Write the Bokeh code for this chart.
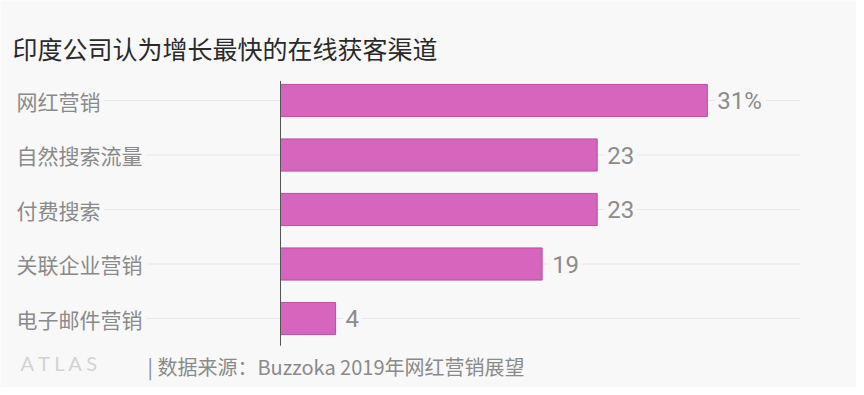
from bokeh.plotting import figure
from bokeh.models import Range1d, Label, ColumnDataSource
from bokeh.core.properties import value
from bokeh.embed import file_html
from bokeh.resources import INLINE

title_text = "印度公司认为增长最快的在线获客渠道"
categories = ["网红营销", "自然搜索流量", "付费搜索", "关联企业营销", "电子邮件营销"]
values = [31, 23, 23, 19, 4]
value_labels = ["31%", "23", "23", "19", "4"]
source_text = "| 数据来源：Buzzoka 2019年网红营销展望"
brand_text = "A  T  L  A  S"

W, H = 856, 387
px_per_unit = 13.77
zero_px = 280
row_px = 54.5
first_row_px = 100

x_start = -zero_px / px_per_unit
x_end = (W - zero_px) / px_per_unit
y_end = first_row_px / row_px
y_start = -(H - first_row_px) / row_px

BG = "#f8f8f8"
p = figure(width=W, height=H, output_backend="svg", toolbar_location=None,
           x_range=Range1d(x_start, x_end), y_range=Range1d(y_start, y_end),
           min_border=0, min_border_left=0, min_border_right=0,
           min_border_top=0, min_border_bottom=0)
p.axis.visible = False
p.grid.visible = False
p.outline_line_color = None
p.background_fill_color = BG
p.border_fill_color = BG

ys = [-i for i in range(len(categories))]
src = ColumnDataSource(dict(cat=categories, val=values, lab=value_labels, y=ys,
                            x0=[x_start + 12 / px_per_unit] * len(ys),
                            x1=[(800 - zero_px) / px_per_unit] * len(ys),
                            lx=[x_start + 12 / px_per_unit] * len(ys),
                            vx=[v + 7 / px_per_unit for v in values]))

# faint gridlines
p.segment(x0="x0", y0="y", x1="x1", y1="y", source=src, line_color="#e8e8e8", line_width=1)

# bars
p.hbar(y="y", left=0, right="val", height=0.59, source=src,
       fill_color="#d565bd", line_color="#b9509f", line_width=1)

# axis line at zero
p.segment(x0=0, y0=ys[0] + 0.36, x1=0, y1=ys[-1] - 0.5, line_color="#555555", line_width=1)

# category labels
p.text(x="lx", y="y", text="cat", source=src, text_font=value("Noto Sans CJK SC"),
       text_font_size="21px", text_color="#8a8a8a", text_baseline="middle",
       text_align="left", background_fill_color=BG, padding=4)

# value labels
p.text(x="vx", y="y", text="lab", source=src, text_font=value("Roboto"),
       text_font_size="24px", text_color="#8c8c8c", text_baseline="middle",
       text_align="left", background_fill_color=BG, padding=3)

# title
p.add_layout(Label(x=12, y=H - 47, x_units="screen", y_units="screen", text=title_text,
                   text_font="Noto Sans CJK SC", text_font_size="25px",
                   text_color="#2a2a2a", text_baseline="middle"))

# footer
p.add_layout(Label(x=20, y=H - 362, x_units="screen", y_units="screen", text=brand_text,
                   text_font="Lato", text_font_size="20px",
                   text_color="#d2d2d2", text_baseline="middle"))
p.add_layout(Label(x=147, y=H - 366, x_units="screen", y_units="screen", text=source_text,
                   text_font="Noto Sans CJK SC", text_font_size="20px",
                   text_color="#8a8a8a", text_baseline="middle"))

open("out.html", "w").write(file_html(p, INLINE))
